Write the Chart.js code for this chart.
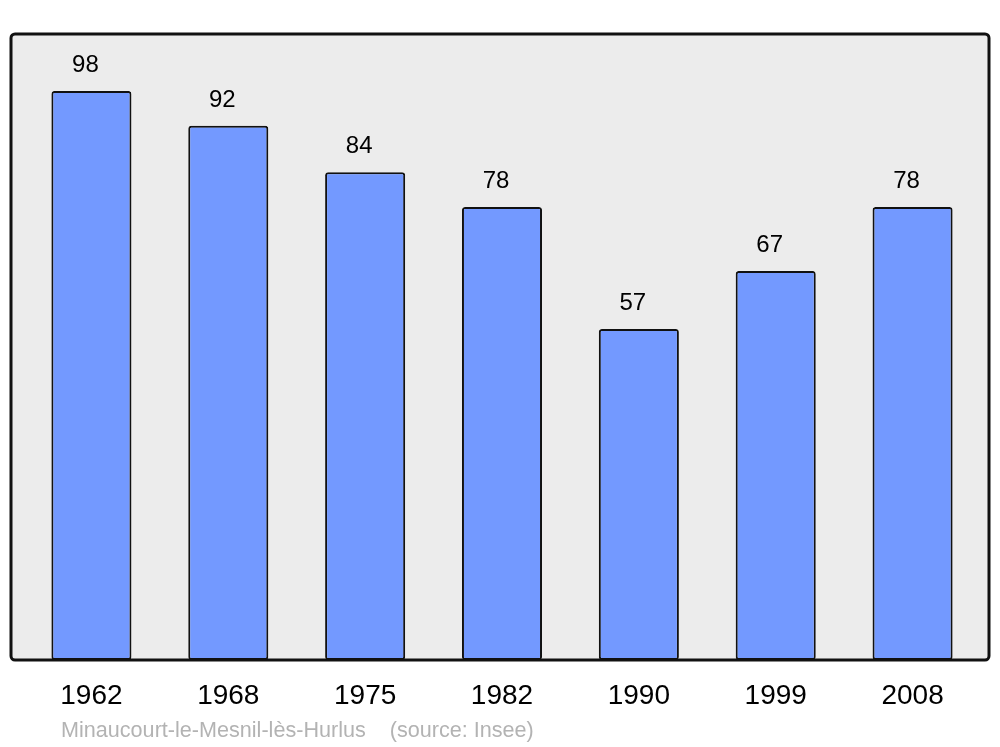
<!DOCTYPE html>
<html>
<head>
<meta charset="utf-8">
<script src="https://cdn.jsdelivr.net/npm/chart.js@4.4.1/dist/chart.umd.min.js"></script>
<style>
  html, body { margin: 0; padding: 0; background: #ffffff; }
  #wrap { width: 1000px; height: 747px; }
</style>
</head>
<body>
<div id="wrap"><canvas id="popChart" width="1000" height="747"></canvas></div>
<script>
const years = ['1962', '1968', '1975', '1982', '1990', '1999', '2008'];
const population = [98, 92, 84, 78, 57, 67, 78];
const yMax = 107.8;
const caption = 'Minaucourt-le-Mesnil-lès-Hurlus    (source: Insee)';

const frameBox = {
    id: 'frameBox',
    beforeDatasetsDraw(chart) {
        const ctx = chart.ctx;
        const a = chart.chartArea;
        ctx.save();
        ctx.beginPath();
        ctx.roundRect(a.left - 12, a.top, a.right - a.left + 20, a.bottom - a.top, 4);
        ctx.fillStyle = '#ececec';
        ctx.fill();
        ctx.restore();
    },
    afterDatasetsDraw(chart) {
        const ctx = chart.ctx;
        const a = chart.chartArea;
        ctx.save();
        ctx.beginPath();
        ctx.roundRect(a.left - 12, a.top, a.right - a.left + 20, a.bottom - a.top, 4);
        ctx.lineWidth = 3;
        ctx.strokeStyle = '#111111';
        ctx.stroke();

        // value labels above bars
        const meta = chart.getDatasetMeta(0);
        ctx.font = '24px "Liberation Sans", Arial, sans-serif';
        ctx.fillStyle = '#000000';
        ctx.textAlign = 'center';
        ctx.textBaseline = 'alphabetic';
        meta.data.forEach((bar, i) => {
            ctx.fillText(String(population[i]), bar.x - 6, bar.y - 19);
        });

        // caption
        ctx.font = '21.6px "Liberation Sans", Arial, sans-serif';
        ctx.fillStyle = '#b3b3b3';
        ctx.textAlign = 'left';
        ctx.fillText(caption, 61, 737);
        ctx.restore();
    }
};

const ctx = document.getElementById('popChart').getContext('2d');
new Chart(ctx, {
    type: 'bar',
    data: {
        labels: years,
        datasets: [{
            data: population,
            backgroundColor: '#7399ff',
            borderColor: '#111111',
            borderWidth: 2,
            borderRadius: 3,
            borderSkipped: false,
            categoryPercentage: 1,
            barPercentage: 0.585
        }]
    },
    options: {
        responsive: false,
        animation: false,
        devicePixelRatio: 1,
        layout: {
            padding: { left: 23, right: 19, top: 34, bottom: 0 }
        },
        plugins: {
            legend: { display: false },
            tooltip: { enabled: false }
        },
        scales: {
            x: {
                grid: { display: false },
                border: { display: false },
                ticks: {
                    color: '#000000',
                    font: { family: '"Liberation Sans", Arial, sans-serif', size: 28 },
                    padding: 11,
                    maxRotation: 0
                },
                afterFit(scale) { scale.height = 87; }
            },
            y: {
                display: false,
                min: 0,
                max: yMax
            }
        }
    },
    plugins: [frameBox]
});
</script>
</body>
</html>
